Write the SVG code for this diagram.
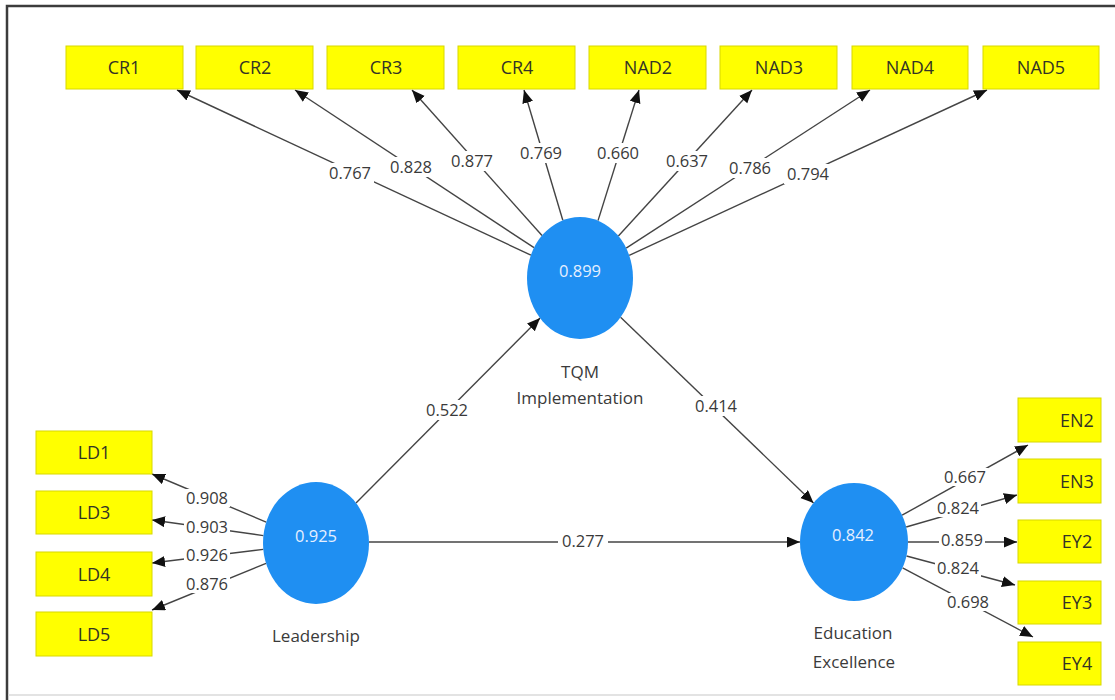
<svg xmlns="http://www.w3.org/2000/svg" width="1115" height="700" viewBox="0 0 1115 700">
<style>
.ind rect{fill:#ffff00;stroke:#d8d800;stroke-width:1}
.ind text{font-family:"Open Sans","Liberation Sans",sans-serif;font-size:18px;fill:#333326;text-anchor:middle}
.lat ellipse{fill:#1f8ff2}
.lat text.v{font-family:"Open Sans","Liberation Sans",sans-serif;font-size:16.5px;fill:#e6f0ff;text-anchor:middle}
.lat text.n{font-family:"Open Sans","Liberation Sans",sans-serif;font-size:17px;fill:#3a3a3a;text-anchor:middle}
.conn line{stroke:#444;stroke-width:1.4;marker-end:url(#ah)}
.lbl rect{fill:#ffffff}
.lbl text{font-family:"Open Sans","Liberation Sans",sans-serif;font-size:16.5px;fill:#3a3a3a;text-anchor:middle}
</style>
<defs>
<marker id="ah" markerUnits="userSpaceOnUse" markerWidth="14" markerHeight="12" refX="13" refY="5.5" orient="auto">
<path d="M0,0 L13,5.5 L0,11 z" fill="#111"/>
</marker>
</defs>
<rect x="0" y="0" width="1115" height="700" fill="#ffffff"/>
<path d="M7,700 L7,6 L1115,6" fill="none" stroke="#3c3c3c" stroke-width="2.5"/>
<line x1="8" y1="695" x2="1115" y2="695" stroke="#dadada" stroke-width="1.5"/>

<g id="connectors" class="conn">
<line x1="530.9" y1="255.1" x2="177" y2="90"/>
<line x1="534" y1="247.7" x2="295" y2="90"/>
<line x1="542" y1="235.5" x2="412" y2="90"/>
<line x1="562.8" y1="220.3" x2="524" y2="90"/>
<line x1="598" y1="220.6" x2="639" y2="90"/>
<line x1="618.4" y1="236" x2="752" y2="90"/>
<line x1="626.2" y1="248.1" x2="870" y2="90"/>
<line x1="629.2" y1="255.3" x2="987" y2="90"/>
<line x1="266.2" y1="522.1" x2="152" y2="474"/>
<line x1="263.4" y1="535.6" x2="152" y2="520"/>
<line x1="263.3" y1="549.4" x2="152" y2="563"/>
<line x1="266.1" y1="563.4" x2="152" y2="610"/>
<line x1="902.1" y1="515.2" x2="1028" y2="445"/>
<line x1="906.2" y1="527" x2="1017" y2="495"/>
<line x1="908" y1="542" x2="1017" y2="542"/>
<line x1="906.5" y1="556" x2="1015" y2="585"/>
<line x1="902.6" y1="567.8" x2="1033" y2="637"/>
<line x1="356" y1="502.9" x2="540.1" y2="318.1"/>
<line x1="620.6" y1="317.2" x2="813.5" y2="503"/>
<line x1="369" y1="542" x2="800" y2="542"/>
</g>

<g id="labels" class="lbl">
<rect x="326" y="163" width="48" height="20"/><text x="350" y="179">0.767</text>
<rect x="387" y="157" width="48" height="20"/><text x="411" y="173">0.828</text>
<rect x="448" y="151" width="48" height="20"/><text x="472" y="167">0.877</text>
<rect x="517" y="143" width="48" height="20"/><text x="541" y="159">0.769</text>
<rect x="594" y="143" width="48" height="20"/><text x="618" y="159">0.660</text>
<rect x="663" y="151" width="48" height="20"/><text x="687" y="167">0.637</text>
<rect x="726" y="158" width="48" height="20"/><text x="750" y="174">0.786</text>
<rect x="784" y="164" width="48" height="20"/><text x="808" y="180">0.794</text>
<rect x="184" y="489" width="46" height="18"/><text x="207" y="504">0.908</text>
<rect x="184" y="519" width="46" height="17"/><text x="207" y="533">0.903</text>
<rect x="184" y="547" width="46" height="17"/><text x="207" y="561">0.926</text>
<rect x="184" y="575" width="46" height="18"/><text x="207" y="590">0.876</text>
<rect x="942" y="468" width="46" height="18"/><text x="965" y="483">0.667</text>
<rect x="935" y="500" width="46" height="17"/><text x="958" y="514">0.824</text>
<rect x="939" y="531" width="46" height="18"/><text x="962" y="546">0.859</text>
<rect x="935" y="560" width="46" height="17"/><text x="958" y="574">0.824</text>
<rect x="945" y="593" width="46" height="18"/><text x="968" y="608">0.698</text>
<rect x="423" y="400" width="48" height="20"/><text x="447" y="416">0.522</text>
<rect x="692" y="396" width="48" height="20"/><text x="716" y="412">0.414</text>
<rect x="558" y="532" width="50" height="18"/><text x="583" y="547">0.277</text>
</g>

<g id="CR1" class="ind"><rect x="66" y="46" width="117" height="43"/><text x="124" y="74">CR1</text></g>
<g id="CR2" class="ind"><rect x="196" y="46" width="117" height="43"/><text x="255" y="74">CR2</text></g>
<g id="CR3" class="ind"><rect x="327" y="46" width="117" height="43"/><text x="386" y="74">CR3</text></g>
<g id="CR4" class="ind"><rect x="458" y="46" width="117" height="43"/><text x="517" y="74">CR4</text></g>
<g id="NAD2" class="ind"><rect x="589" y="46" width="117" height="43"/><text x="648" y="74">NAD2</text></g>
<g id="NAD3" class="ind"><rect x="720" y="46" width="117" height="43"/><text x="779" y="74">NAD3</text></g>
<g id="NAD4" class="ind"><rect x="852" y="46" width="116" height="43"/><text x="910" y="74">NAD4</text></g>
<g id="NAD5" class="ind"><rect x="983" y="46" width="116" height="43"/><text x="1041" y="74">NAD5</text></g>

<g id="LD1" class="ind"><rect x="36" y="431" width="116" height="43"/><text x="94" y="459">LD1</text></g>
<g id="LD3" class="ind"><rect x="36" y="491" width="116" height="43"/><text x="94" y="519">LD3</text></g>
<g id="LD4" class="ind"><rect x="36" y="552" width="116" height="44"/><text x="94" y="580.5">LD4</text></g>
<g id="LD5" class="ind"><rect x="36" y="612" width="116" height="44"/><text x="94" y="640.5">LD5</text></g>

<g id="EN2" class="ind"><rect x="1018" y="398" width="83" height="44"/><text x="1077" y="426.5">EN2</text></g>
<g id="EN3" class="ind"><rect x="1018" y="459" width="83" height="44"/><text x="1077" y="487.5">EN3</text></g>
<g id="EY2" class="ind"><rect x="1018" y="520" width="83" height="43"/><text x="1077" y="548">EY2</text></g>
<g id="EY3" class="ind"><rect x="1018" y="581" width="83" height="43"/><text x="1077" y="609">EY3</text></g>
<g id="EY4" class="ind"><rect x="1018" y="642" width="83" height="43"/><text x="1077" y="670">EY4</text></g>

<g id="TQM" class="lat"><ellipse cx="580" cy="278" rx="53" ry="61"/><text class="v" x="580" y="277">0.899</text><text class="n" x="580" y="378">TQM</text><text class="n" x="580" y="404">Implementation</text></g>
<g id="Leadership" class="lat"><ellipse cx="316" cy="543" rx="53" ry="61"/><text class="v" x="316" y="542">0.925</text><text class="n" x="316" y="642">Leadership</text></g>
<g id="EducationExcellence" class="lat"><ellipse cx="854" cy="542" rx="54" ry="59"/><text class="v" x="853" y="541">0.842</text><text class="n" x="853" y="639">Education</text><text class="n" x="854" y="668">Excellence</text></g>
</svg>
